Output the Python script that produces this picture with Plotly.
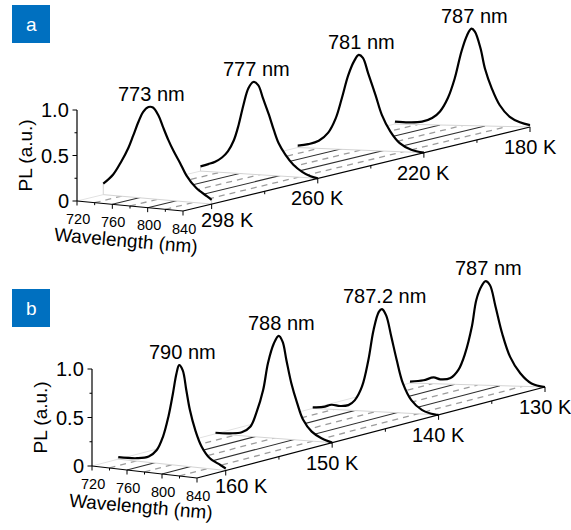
import numpy as np
import plotly.graph_objects as go

# ---------------- data ----------------
temps_a = ["298 K", "260 K", "220 K", "180 K"]
peaks_a = ["773 nm", "777 nm", "781 nm", "787 nm"]

wl_a298 = [720, 731, 740, 748, 753, 759, 764, 770, 775, 781, 786, 792, 798, 805, 812, 823, 835, 840]
pl_a298 = [0.12, 0.23, 0.38, 0.54, 0.67, 0.83, 0.94, 1.00, 1.00, 0.92, 0.80, 0.66, 0.54, 0.42, 0.29, 0.16, 0.08, 0.045]

wl_a260 = [720, 728, 735, 742, 748, 754, 759, 764, 769, 774, 779, 784, 790, 795, 800, 807, 815, 824, 832, 840]
pl_a260 = [0.05, 0.08, 0.11, 0.16, 0.23, 0.35, 0.52, 0.74, 0.92, 0.99, 0.96, 0.82, 0.65, 0.49, 0.35, 0.23, 0.13, 0.06, 0.02, 0.0]

wl_a220 = [720, 730, 740, 749, 756, 762, 768, 774, 778, 782, 787, 794, 800, 808, 817, 828, 840]
pl_a220 = [0.02, 0.04, 0.08, 0.17, 0.32, 0.54, 0.78, 0.94, 1.00, 0.97, 0.81, 0.585, 0.38, 0.21, 0.09, 0.025, 0.0]

wl_a180 = [720, 732, 744, 753, 760, 767, 773, 779, 784, 788, 791, 796, 800, 806, 813, 822, 831, 840]
pl_a180 = [0.025, 0.02, 0.03, 0.07, 0.14, 0.28, 0.48, 0.76, 0.93, 1.00, 0.97, 0.80, 0.59, 0.39, 0.22, 0.10, 0.046, 0.02]

temps_b = ["160 K", "150 K", "140 K", "130 K"]
peaks_b = ["790 nm", "788 nm", "787.2 nm", "787 nm"]

wl_b160 = [720, 741, 754, 763, 770, 776, 781, 785, 788, 792, 796, 800, 806, 813, 822, 834, 840]
pl_b160 = [0.02, 0.03, 0.06, 0.135, 0.28, 0.49, 0.73, 0.94, 1.03, 0.98, 0.78, 0.58, 0.38, 0.22, 0.11, 0.05, 0.02]

wl_b150 = [720, 735, 747, 756, 762, 769, 774, 780, 785, 789, 793, 798, 804, 810, 819, 829, 840]
pl_b150 = [0.01, 0.016, 0.035, 0.10, 0.24, 0.475, 0.75, 0.95, 1.03, 0.975, 0.79, 0.565, 0.37, 0.21, 0.095, 0.036, 0.0]

wl_b140 = [720, 730, 738, 746, 754, 760, 767, 773, 778, 783, 786, 790, 795, 800, 806, 814, 824, 837, 840]
pl_b140 = [0.01, 0.02, 0.045, 0.037, 0.05, 0.10, 0.24, 0.50, 0.80, 0.98, 1.01, 0.95, 0.74, 0.52, 0.29, 0.13, 0.04, 0.0, 0.0]

wl_b130 = [720, 732, 741, 747, 756, 763, 769, 775, 779, 784, 787, 791, 796, 802, 809, 818, 828, 840]
pl_b130 = [0.013, 0.03, 0.06, 0.044, 0.06, 0.14, 0.30, 0.56, 0.82, 0.96, 1.00, 0.965, 0.76, 0.50, 0.28, 0.125, 0.03, 0.0]

wl_major = [720, 760, 800, 840]
wl_minor = [740, 780, 820]
pl_major = [0, 0.5, 1.0]
pl_major_labels = ["0", "0.5", "1.0"]
pl_minor = [0.25, 0.75]

# ---------------- layout constants ----------------
FONT = "Arial, 'Liberation Sans', sans-serif"
W, Hgt = 571, 530
WL0, WL1 = wl_major[0], wl_major[-1]
ROW0 = 0.27                 # depth of first row behind the front edge (in row steps)
NROW = 4
DEPTH = NROW - 1 + ROW0     # total floor depth

PANELS = {
    "a": dict(FL=(77, 201), FR=(183, 211), BR=(530, 127), BL=(395, 124), H0=91, H1=97,
              box=(12, 5, 50, 43), letter="a",
              rows=[(wl_a298, pl_a298), (wl_a260, pl_a260), (wl_a220, pl_a220), (wl_a180, pl_a180)],
              temps=temps_a, peaks=peaks_a),
    "b": dict(FL=(92, 466), FR=(197, 478), BR=(545, 387), BL=(410, 383), H0=97, H1=104,
              box=(12, 289, 50, 327), letter="b",
              rows=[(wl_b160, pl_b160), (wl_b150, pl_b150), (wl_b140, pl_b140), (wl_b130, pl_b130)],
              temps=temps_b, peaks=peaks_b),
}


def proj(g, lam, d, pl=0.0):
    """Oblique (bilinear floor) projection of (wavelength, depth, PL) to the drawing plane."""
    lam = np.asarray(lam, float)
    pl = np.asarray(pl, float)
    u = (lam - WL0) / (WL1 - WL0)
    t = d / DEPTH
    (x1, y1), (x2, y2), (x3, y3), (x4, y4) = g["FL"], g["FR"], g["BR"], g["BL"]
    x = x1 * (1 - u) * (1 - t) + x2 * u * (1 - t) + x3 * u * t + x4 * (1 - u) * t
    y = y1 * (1 - u) * (1 - t) + y2 * u * (1 - t) + y3 * u * t + y4 * (1 - u) * t
    hs = g["H0"] + (g["H1"] - g["H0"]) * t
    return x, y - pl * hs


fig = go.Figure()
ann = []
shapes = []


def line(xs, ys, color="black", width=1.0, dash=None, shape="linear"):
    fig.add_trace(go.Scatter(x=list(xs), y=list(ys), mode="lines", hoverinfo="skip",
                             line=dict(color=color, width=width, dash=dash, shape=shape)))


def text(x, y, s, size=20, xanchor="center", yanchor="middle", angle=0, color="black", xs=0, ys=0):
    ann.append(dict(x=x, y=y, xref="x", yref="y", text=s, showarrow=False, xanchor=xanchor,
                    yanchor=yanchor, textangle=angle, xshift=xs, yshift=ys,
                    font=dict(family=FONT, size=size, color=color)))


for key, g in PANELS.items():
    depths = [ROW0 + k for k in range(NROW)]

    # floor grid (constant wavelength lines running in depth)
    for lam in sorted(wl_major[1:-1] + wl_minor):
        xa, ya = proj(g, [lam, lam], 0.0)
        xb, yb = proj(g, [lam, lam], DEPTH)
        xs, ys = [float(xa[0]), float(xb[1])], [float(ya[0]), float(yb[1])]
        if lam in wl_major:
            line(xs, ys, color="#2e2e2e", width=1.1)
        else:
            line(xs, ys, color="#9c9c9c", width=1.3, dash="6px,5px")
    # faint left floor edge
    x0, y0 = proj(g, [WL0], 0.0)
    x1, y1 = proj(g, [WL0], DEPTH)
    line([x0[0], x1[0]], [y0[0], y1[0]], color="#e2e2e2", width=1.0)

    # curves, back to front; white fill hides what lies behind
    for k in reversed(range(NROW)):
        wl, pl = g["rows"][k]
        d = depths[k]
        cx, cy = proj(g, wl, d, pl)
        bx, by = proj(g, [wl[0], wl[-1]], d)
        # baseline outline (start top -> base left -> base right -> end top)
        line([cx[0], bx[0], bx[1], cx[-1]], [cy[0], by[0], by[1], cy[-1]], color="#d4d4d4", width=1.0)
        fig.add_trace(go.Scatter(x=cx, y=cy, mode="lines", hoverinfo="skip", fill="tonexty",
                                 fillcolor="white",
                                 line=dict(color="black", width=2.2, shape="spline", smoothing=1.0)))
        # peak label
        i = int(np.argmax(pl))
        px, py = proj(g, [wl[i]], d, [pl[i]])
        text(float(px[0]), float(py[0]), g["peaks"][k], size=20, xs=3, ys=13)
        # temperature label
        rx, ry = proj(g, [WL1], d)
        if k == 0:
            text(float(rx[0]), float(ry[0]), g["temps"][k], size=20, xs=16, ys=-15.5)
        else:
            text(float(rx[0]), float(ry[0]), g["temps"][k], size=20, ys=-20)

    # wavelength axis (front edge)
    ax, ay = proj(g, [WL0, WL1], 0.0)
    line(ax, ay, color="black", width=1.2)
    for lam in wl_major + wl_minor:
        tx, ty = proj(g, [lam], 0.0)
        L = 4.5 if lam in wl_major else 2.5
        line([tx[0], tx[0]], [ty[0], ty[0] + L], color="black", width=1.0)
    for lam in wl_major:
        tx, ty = proj(g, [lam], 0.0)
        text(float(tx[0]), float(ty[0]), str(lam), size=14.5, xs=1, ys=-17.5)
    mx, my = proj(g, [(WL0 + WL1) / 2], 0.0)
    text(float(mx[0]), float(my[0]), "Wavelength (nm)", size=19, angle=5, xs=-4, ys=-34)

    # depth (temperature) axis at right edge
    dx, dy = proj(g, [WL1, WL1], 0.0)
    ex, ey = proj(g, [WL1, WL1], DEPTH)
    line([dx[0], ex[1]], [dy[0], ey[1]], color="black", width=1.2)
    for k in range(NROW):
        tx, ty = proj(g, [WL1], depths[k])
        line([tx[0], tx[0]], [ty[0], ty[0] + 5], color="black", width=1.0)
        if k < NROW - 1:
            tx, ty = proj(g, [WL1], depths[k] + 0.5)
            line([tx[0], tx[0]], [ty[0], ty[0] + 3], color="black", width=1.0)

    # PL axis (vertical at the front-left corner)
    px0, py0 = proj(g, [WL0], 0.0, [0.0])
    px1, py1 = proj(g, [WL0], 0.0, [max(pl_major)])
    line([px0[0], px1[0]], [py0[0], py1[0]], color="black", width=1.2)
    for v, s in zip(pl_major, pl_major_labels):
        tx, ty = proj(g, [WL0], 0.0, [v])
        line([tx[0] - 4.5, tx[0]], [ty[0], ty[0]], color="black", width=1.0)
        text(float(tx[0]), float(ty[0]), s, size=20, xanchor="right", xs=-6)
    for v in pl_minor:
        tx, ty = proj(g, [WL0], 0.0, [v])
        line([tx[0] - 2.5, tx[0]], [ty[0], ty[0]], color="black", width=1.0)
    cx_, cy_ = proj(g, [WL0], 0.0, [0.5])
    text(float(cx_[0]), float(cy_[0]), "PL (a.u.)", size=19, angle=-90, xs=-52)

    # panel letter box
    x0b, y0b, x1b, y1b = g["box"]
    shapes.append(dict(type="rect", xref="x", yref="y", x0=x0b, y0=y0b, x1=x1b, y1=y1b,
                       fillcolor="#0070C0", line=dict(width=0), layer="above"))
    text((x0b + x1b) / 2, (y0b + y1b) / 2, g["letter"], size=19, color="white")

fig.update_layout(
    width=W, height=Hgt, margin=dict(l=0, r=0, t=0, b=0),
    paper_bgcolor="white", plot_bgcolor="white", showlegend=False,
    xaxis=dict(range=[0, W], visible=False, fixedrange=True),
    yaxis=dict(range=[Hgt, 0], visible=False, fixedrange=True),
    annotations=ann, shapes=shapes,
)

fig.write_html("out.html")
